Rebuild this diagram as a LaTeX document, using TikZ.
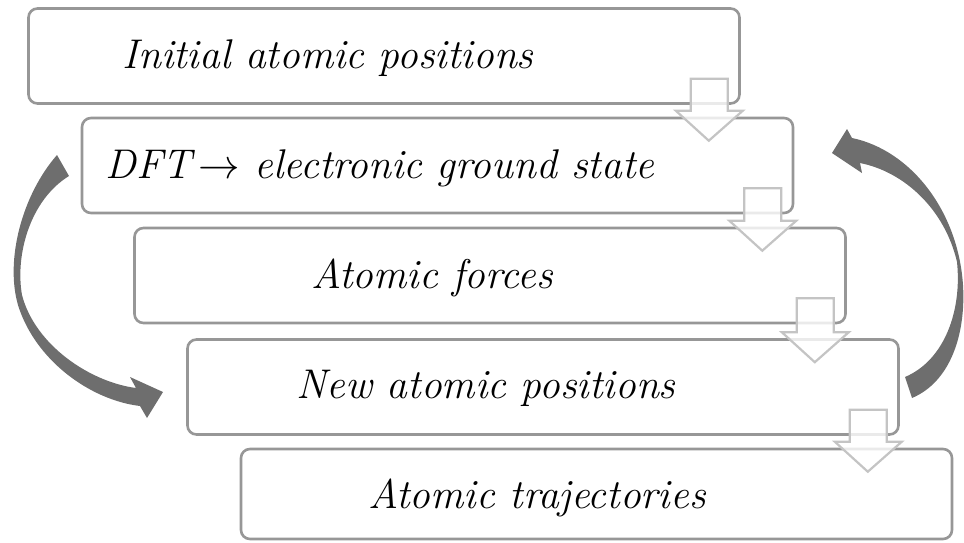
\RequirePackage{fix-cm}
\documentclass[tikz,border=0pt]{standalone}
\usepackage{fontspec}
\usetikzlibrary{calc}
\definecolor{boxline}{HTML}{979797}
\definecolor{arrline}{HTML}{C4C4C4}
\definecolor{curvefill}{HTML}{6E6E6E}
\tikzset{
  stepbox/.style={draw=boxline, line width=2.6pt, rounded corners=9pt, fill=white,
    minimum width=711pt, minimum height=95pt, inner sep=0pt},
  steptext/.style={anchor=base, inner sep=0pt, font=\fontsize{41.5}{50}\selectfont\itshape},
  flowarr/.style={draw=arrline, line width=2.2pt, fill=white, fill opacity=0.8, line join=miter},
  cyclearr/.style={fill=curvefill, draw=none}
}
\newcommand{\flowarrow}[2]{%
  \draw[flowarr] let \p1=(#1.south east), \p2=(#2.north) in
    (\x1-50pt,\y1+26pt) -- (\x1-13pt,\y1+26pt) -- (\x1-13pt,\y2+6pt) -- (\x1+2pt,\y2+6pt)
    -- (\x1-32pt,\y2-24pt) -- (\x1-65pt,\y2+6pt) -- (\x1-50pt,\y2+6pt) -- cycle;}
\begin{document}
\begin{tikzpicture}[x=1pt,y=-1pt]
\useasboundingbox (0,0) rectangle (964,542);
% boxes
\node[stepbox] (b1) at (384,56) {};
\node[stepbox] (b2) at (437.5,165.5) {};
\node[stepbox] (b3) at (490,275.5) {};
\node[stepbox] (b4) at (543,387) {};
\node[stepbox, minimum height=90pt] (b5) at (596.5,494) {};
% texts
\node[steptext] (t1) at (328,68) {Initial atomic positions};
\node[steptext] (t2) at (380,178) {DFT\,$\rightarrow$ electronic ground state};
\node[steptext] (t3) at (432,288) {Atomic forces};
\node[steptext] (t4) at (486,398) {New atomic positions};
\node[steptext] (t5) at (537,508) {Atomic trajectories};
% flow arrows
\flowarrow{b1}{b2}
\flowarrow{b2}{b3}
\flowarrow{b3}{b4}
\flowarrow{b4}{b5}
% cycle arrows
\fill[cyclearr] (57,155) .. controls (22,195) and (5,260) .. (18,305)
  .. controls (35,360) and (90,400) .. (140,406) -- (147,418) -- (163,392) -- (130,377) -- (136,388)
  .. controls (90,382) and (35,345) .. (22,295)
  .. controls (15,255) and (30,200) .. (69,176) -- cycle;
\fill[cyclearr] (905,377) -- (912,398) .. controls (950,382) and (966,335) .. (963,285)
  .. controls (958,210) and (910,150) .. (852,138) -- (847,129) -- (832,153) -- (862,173) -- (860,163)
  .. controls (905,172) and (945,210) .. (957,262)
  .. controls (962,310) and (945,360) .. (905,377) -- cycle;
\end{tikzpicture}
\end{document}
